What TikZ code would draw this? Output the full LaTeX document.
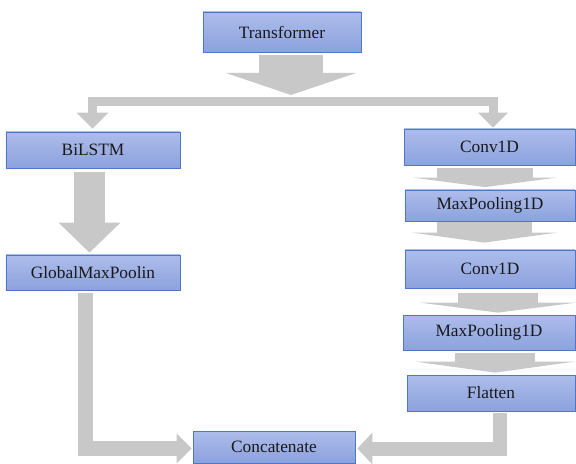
\documentclass[tikz,border=0pt]{standalone}
\usepackage{fontspec}
\setmainfont{Liberation Serif}
\newfontfamily\layerfont{Liberation Serif}
\usetikzlibrary{arrows.meta,calc}

\definecolor{boxtop}{RGB}{173,188,234}
\definecolor{boxbot}{RGB}{140,162,222}
\definecolor{boxline}{RGB}{80,118,200}
\definecolor{arrowgray}{RGB}{200,200,200}

\tikzset{
    layer/.style={rectangle, draw=boxline, line width=0.8bp, top color=boxtop, bottom color=boxbot,
        inner sep=0pt, text=black!90, font=\layerfont\fontsize{17.4}{20}\selectfont},
    blockarrow/.style n args={3}{draw=arrowgray, line width=#1,
        -{Triangle[width=#2, length=#3, line width=0pt]}},
}

\begin{document}
\begin{tikzpicture}[x=1bp, y=-1bp]
    \useasboundingbox (0,0) rectangle (576,464);

    % Layers
    \node[layer, minimum width=158bp, minimum height=40bp] (trans) at (282,32) {Transformer};
    \node[layer, minimum width=174bp, minimum height=36bp] (bilstm) at (93,150) {BiLSTM};
    \node[layer, minimum width=174bp, minimum height=35bp] (gmp) at (93,272.5) {GlobalMaxPoolin};
    \node[layer, minimum width=171bp, minimum height=36bp] (conv1) at (489.5,147) {Conv1D};
    \node[layer, minimum width=170bp, minimum height=31bp] (pool1) at (490,205.5) {MaxPooling1D};
    \node[layer, minimum width=170bp, minimum height=38bp] (conv2) at (490,269) {Conv1D};
    \node[layer, minimum width=172bp, minimum height=35bp] (pool2) at (489,332.5) {MaxPooling1D};
    \node[layer, minimum width=168bp, minimum height=36bp] (flat) at (491,393) {Flatten};
    \node[layer, minimum width=162bp, minimum height=32bp] (concat) at (274,447) {Concatenate};

    % Split into two branches
    \coordinate (split) at (291,101.5);
    \draw[blockarrow={64bp}{130bp}{22bp}] ($(trans.south -| split)+(0,3)$) -- ($(split)+(0,-6.5)$);
    \draw[blockarrow={9bp}{32bp}{16bp}] (split) -| ($(bilstm.north)+(-0.5,-3)$);
    \draw[blockarrow={9bp}{30bp}{15bp}] (split) -| ($(conv1.north)+(3.5,-1)$);

    % Left branch
    \draw[blockarrow={31bp}{62bp}{30bp}] ($(bilstm.south)+(-3.5,4)$) -- ($(gmp.north)+(-3.5,-2)$);

    % Right branch
    \draw[blockarrow={96bp}{144bp}{9.5bp}] ($(conv1.south)+(-4.5,3)$) -- ($(pool1.north)+(-5,-2.5)$);
    \draw[blockarrow={95bp}{145bp}{10bp}] ($(pool1.south)+(-5.5,1)$) -- ($(conv2.north)+(-5.5,-7)$);
    \draw[blockarrow={80bp}{157bp}{10bp}] ($(conv2.south)+(8,5)$) -- ($(pool2.north)+(9,-2)$);
    \draw[blockarrow={80bp}{160bp}{11bp}] ($(pool2.south)+(6,3)$) -- ($(flat.north)+(4,-2)$);

    % Merge
    \draw[blockarrow={15bp}{30bp}{15bp}] ($(gmp.south)+(-8,3)$) |- ($(concat.west)+(-1,1.5)$);
    \draw[blockarrow={14bp}{32bp}{15bp}] ($(flat.south)+(9,2)$) |- ($(concat.east)+(2,1.5)$);
\end{tikzpicture}
\end{document}
